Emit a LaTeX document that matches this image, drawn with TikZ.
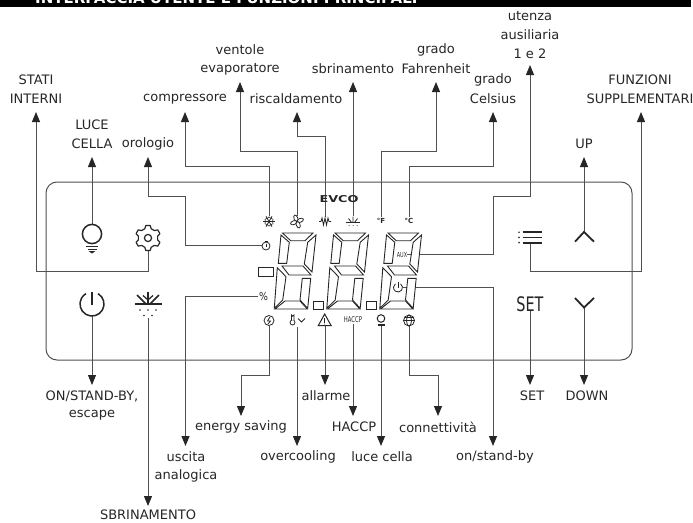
\documentclass[tikz,border=0pt]{standalone}
\usepackage{fontspec}
\setmainfont{DejaVu Sans}
\usetikzlibrary{arrows.meta}
\definecolor{ink}{HTML}{262626}
\definecolor{wire}{HTML}{505050}
\tikzset{
  lab/.style={inner sep=0pt,text=ink,font=\fontsize{13}{15}\selectfont,anchor=center},
  conn/.style={draw=wire,line width=1pt,-{Triangle[length=10pt,width=8pt,color=ink]}},
  icon/.style={draw=ink,line width=1.5pt},
  thin icon/.style={draw=ink,line width=0.8pt},
  seg/.style={draw=ink,line width=0.9pt,line join=miter,fill=white},
  tiny/.style={inner sep=0pt,text=ink,font=\fontsize{7}{8}\selectfont\bfseries}
}
\newcommand{\digitshape}[1]{%
  \begin{scope}[xshift=#1pt]
    \draw[seg] (282.5,233)--(313,233)--(305,240.7)--(290.7,240.7)--cycle;
    \draw[seg] (281,235)--(289.3,242.3)--(286.7,263.3)--(278.3,263.3)--cycle;
    \draw[seg] (316,235)--(307.7,242.3)--(304.3,264)--(312,272)--cycle;
    \draw[seg] (282,266)--(303,266)--(311,275)--(289,275)--cycle;
    \draw[seg] (277.3,267.7)--(286,276.7)--(282.7,300)--(274.3,308.3)--cycle;
    \draw[seg] (302.3,278.3)--(310.7,278.3)--(307.7,308.3)--(300,300)--cycle;
    \draw[seg] (275,309)--(285,301)--(300,301)--(307.3,309)--cycle;
  \end{scope}}
\begin{document}
\begin{tikzpicture}[x=1pt,y=-1pt]
\useasboundingbox (0,0) rectangle (693,522);
% header
\fill[black] (0,0) rectangle (691,7);
\node[anchor=base west,inner sep=0pt,text=white,font=\fontsize{15}{16}\selectfont\bfseries] (title) at (35,4) {INTERFACCIA UTENTE E FUNZIONI PRINCIPALI};
% panel
\draw[wire,line width=1pt,rounded corners=11pt] (46,182) rectangle (632,360);

% coordinates of the icons (connector ends)
\coordinate (iGear) at (148,250);
\coordinate (iBulb) at (92,224);
\coordinate (iClock) at (262,245.5);
\coordinate (iSnow) at (269,216);
\coordinate (iFan) at (297,216);
\coordinate (iHeat) at (325,217);
\coordinate (iDefr) at (353,216);
\coordinate (iF) at (381,217);
\coordinate (iC) at (409,217);
\coordinate (iAux) at (407,254.5);
\coordinate (iMenu) at (530,244);
\coordinate (iUp) at (584,231);
\coordinate (iPow) at (92,316);
\coordinate (iDef) at (148,318);
\coordinate (iPerc) at (258,296);
\coordinate (iBolt) at (269,326);
\coordinate (iTherm) at (297,327);
\coordinate (iTri) at (325,326);
\coordinate (iHaccp) at (353,324);
\coordinate (iBulbS) at (381,326);
\coordinate (iGlobe) at (409,326);
\coordinate (iStand) at (403,287.5);
\coordinate (iSet) at (530,311);
\coordinate (iDown) at (584,308);

% labels
\node[lab] (stati1) at (36,80) {STATI};
\node[lab] (stati) at (36,99) {INTERNI};
\node[lab] (luce1) at (92,125) {LUCE};
\node[lab] (luce) at (92,144) {CELLA};
\node[lab] (orol) at (148,144) {orologio};
\node[lab] (comp) at (185,99) {compressore};
\node[lab] (vent1) at (240,50) {ventole};
\node[lab] (vent) at (240,69) {evaporatore};
\node[lab] (risc) at (296,99) {riscaldamento};
\node[lab] (sbri) at (353,69) {sbrinamento};
\node[lab] (fahr1) at (436,50) {grado};
\node[lab] (fahr) at (436,69) {Fahrenheit};
\node[lab] (cels1) at (493,80) {grado};
\node[lab] (cels) at (493,99) {Celsius};
\node[lab] (ut1) at (530,16) {utenza};
\node[lab] (ut2) at (530,35) {ausiliaria};
\node[lab] (ut) at (530,54) {1 e 2};
\node[lab] (funz1) at (640,80) {FUNZIONI};
\node[lab] (funz) at (640,99) {SUPPLEMENTARI};
\node[lab] (up) at (584,144) {UP};
\node[lab] (onst) at (92,396) {ON/STAND-BY,};
\node[lab] (onst2) at (92,415) {escape};
\node[lab] (setl) at (532,396) {SET};
\node[lab] (down) at (587,396) {DOWN};
\node[lab] (alla) at (326,396) {allarme};
\node[lab] (ener) at (241,427) {energy saving};
\node[lab] (haccp) at (354,427) {HACCP};
\node[lab] (conn) at (438,427) {connettività};
\node[lab] (usc) at (186,457) {uscita};
\node[lab] (usc2) at (186,476) {analogica};
\node[lab] (over) at (298,457) {overcooling};
\node[lab] (lucec) at (382,457) {luce cella};
\node[lab] (stby) at (495,457) {on/stand-by};
\node[lab] (sbrm) at (148,514.5) {SBRINAMENTO};

% connectors
\draw[conn] (iGear) -- (148,271) -- (36,271) -- (36,112);
\draw[conn] (iBulb) -- (92,157);
\draw[conn] (iClock) -- (185,245.5) -- (185,196) -- (148,196) -- (148,157);
\draw[conn] (iSnow) -- (269,166) -- (185,166) -- (185,112);
\draw[conn] (iFan) -- (297,151) -- (240,151) -- (240,82);
\draw[conn] (iHeat) -- (325,136) -- (297,136) -- (297,112);
\draw[conn] (iDefr) -- (353,82);
\draw[conn] (iF) -- (381,151) -- (436,151) -- (436,82);
\draw[conn] (iC) -- (409,166) -- (493,166) -- (493,112);
\draw[conn] (iAux) -- (493,254.5) -- (493,196) -- (530,196) -- (530,65);
\draw[conn] (iMenu) -- (530,271) -- (641,271) -- (641,112);
\draw[conn] (iUp) -- (584,157);
\draw[conn] (iPow) -- (92,385);
\draw[conn] (iDef) -- (148,506);
\draw[conn] (iPerc) -- (185.5,296) -- (185.5,446);
\draw[conn] (iBolt) -- (269,375) -- (241,375) -- (241,416);
\draw[conn] (iTherm) -- (297,446);
\draw[conn] (iTri) -- (325,385);
\draw[conn] (iHaccp) -- (353,416);
\draw[conn] (iBulbS) -- (381,446);
\draw[conn] (iGlobe) -- (409,375) -- (438,375) -- (438,416);
\draw[conn] (iStand) -- (493,287.5) -- (493,446);
\draw[conn] (iSet) -- (530,385);
\draw[conn] (iDown) -- (584,385);

% ---- big buttons ----
% bulb
\draw[icon] (92,234) circle[radius=9.6];
\draw[icon] (86,246.5) -- (98,246.5);
\draw[icon] (87.5,249.5) -- (96.5,249.5);
\fill[ink] (88.5,251) -- (95.5,251) -- (92,253.5) -- cycle;
% gear
\begin{scope}[shift={(148,238)}]
  \draw[thin icon,line width=1.2pt,line join=round] (71:9.8)
    \foreach \a in {90,150,210,270,330,390} { -- (\a-19:9.8) -- (\a-10:12.7) -- (\a+10:12.7) -- (\a+19:9.8) } -- cycle;
  \draw[thin icon,line width=1.2pt] (0,0) circle[radius=3.6];
\end{scope}
% power
\draw[icon] (92,304) ++(-60:12) arc[start angle=-60,end angle=240,radius=12];
\draw[icon] (92,292) -- (92,305);
% defrost
\draw[icon] (135,304) -- (162,304);
\draw[icon] (148,291.5) -- (148,304);
\draw[icon] (137,295) -- (146,304) (159,295) -- (150,304);
\draw[icon,line width=1.2pt] (143,295.5) -- (148,300) -- (153,295.5);
\foreach \x/\y in {140/310,148/310,156/310,144/315.5,152/315.5} \fill[ink] (\x,\y) circle[radius=0.9];
% menu
\draw[icon,line width=1.8pt] (522.7,232.3) -- (542,232.3) (522.7,237.4) -- (542,237.4) (522.7,242.6) -- (542,242.6);
\foreach \y in {232.3,237.4,242.6} \fill[ink] (519,\y) circle[radius=0.9];
% chevrons
\draw[icon,line width=1.8pt] (575,241.7) -- (584,232) -- (594,241.7);
\draw[icon,line width=1.8pt] (575,298) -- (584,307.5) -- (594,298);
% SET
\node[inner sep=0pt,text=ink,font=\fontsize{20}{22}\selectfont] (setk) at (530,304) {\scalebox{0.72}[1]{SET}};

% ---- display ----
\digitshape{0}
\digitshape{52.5}
\digitshape{105.5}
\draw[seg] (313,301) rectangle (323,309);
\draw[seg] (366,301) rectangle (376,309);
\draw[seg] (258,267) rectangle (273,276);
\node[tiny,font=\fontsize{7}{8}\selectfont] (aux) at (402,254.5) {\scalebox{0.7}[1]{AUX}};
\draw[thin icon] (398,287.5) ++(-55:4.5) arc[start angle=-55,end angle=235,radius=4.5];
\draw[thin icon] (398,282) -- (398,288);
% evco logo
\node[inner sep=0pt,text=ink,font=\fontsize{9.5}{10}\selectfont\bfseries] (evco) at (339,199.5) {\scalebox{1.35}[1]{EVCO}};
% top row icons
\begin{scope}[shift={(269,221.5)}]
  \foreach \a in {0,60,120} \draw[thin icon] (\a:6) -- (\a+180:6);
  \foreach \a in {30,90,150,210,270,330} \draw[thin icon,line width=0.6pt] (\a-30:3.6) -- (\a:3.6+1) -- (\a+30:3.6);
\end{scope}
\begin{scope}[shift={(297,221.5)}]
  \foreach \a in {20,110,200,290} \draw[thin icon,fill=white,rotate=\a] (3.4,0) ellipse[x radius=3.4,y radius=1.9];
  \fill[ink] (0,0) circle[radius=1];
\end{scope}
\draw[thin icon,line join=miter] (319,221.5) -- (321,221.5) -- (322,218) -- (323.5,225) -- (325,218) -- (326.5,225) -- (328,218) -- (329,221.5) -- (331,221.5);
\begin{scope}[shift={(353,222.5)}]
  \draw[thin icon] (-7,0) -- (7,0);
  \draw[thin icon] (0,-6) -- (0,0) (-4.5,-4) -- (-1.5,0) (4.5,-4) -- (1.5,0);
  \foreach \x in {-4,0,4} \fill[ink] (\x,3) circle[radius=0.5];
\end{scope}
\node[tiny] (degF) at (381,221) {°F};
\node[tiny] (degC) at (409,221) {°C};
% clock
\draw[thin icon,fill=white] (266,246) circle[radius=4];
\draw[thin icon] (266,243.5) -- (266,246.5);
\draw[thin icon] (264.5,241) -- (267.5,241);
% percent
\node[inner sep=0pt,text=ink,font=\fontsize{11}{12}\selectfont] (perc) at (263.5,296) {\scalebox{0.85}[1]{\%}};
% bottom row icons
\draw[thin icon,fill=white] (269,320.5) circle[radius=5];
\draw[thin icon] (270,317) -- (267.5,321) -- (270.5,321) -- (268,324);
\draw[thin icon,fill=white] (292.5,322.5) circle[radius=2.5];
\draw[thin icon,fill=white] (291.5,320.5) -- (291.5,315) arc[start angle=180,end angle=0,radius=1.2] -- (293.9,320.5);
\draw[thin icon] (298,318.5) -- (301.5,322) -- (305,318.5);
\draw[icon,line width=1pt,line join=miter,fill=white] (324.7,314) -- (331.2,325.7) -- (318.2,325.7) -- cycle;
\draw[thin icon] (324.7,318) -- (324.7,322.5);
\fill[ink] (324.7,324) circle[radius=0.5];
\node[tiny,font=\fontsize{8}{9}\selectfont] (haccpk) at (353,320) {\scalebox{0.66}[1]{HACCP}};
\draw[thin icon,line width=1pt,fill=white] (381,318.5) circle[radius=3.8];
\draw[icon] (377.5,324.8) -- (384.5,324.8);
\draw[thin icon,fill=white] (409,320.5) circle[radius=5.5];
\draw[thin icon] (409,320.5) ellipse[x radius=2.5,y radius=5.5];
\draw[thin icon] (403.5,320.5) -- (414.5,320.5) (404.5,317.5) -- (413.5,317.5);
\end{tikzpicture}
\end{document}
